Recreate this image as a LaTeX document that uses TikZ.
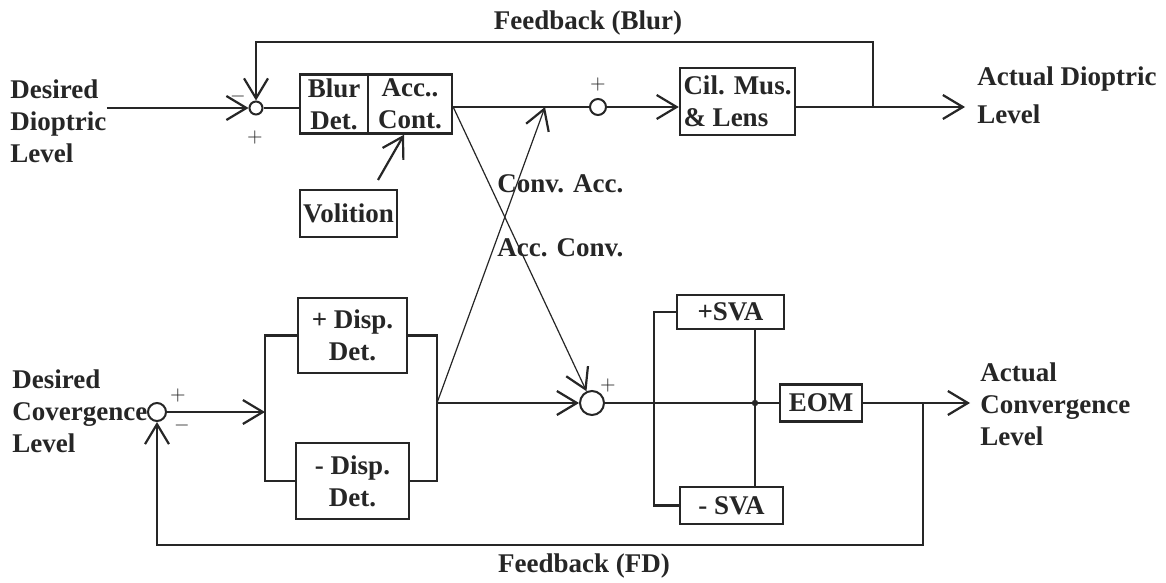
\documentclass[tikz,border=0pt]{standalone}
\usepackage{fontspec}
\setmainfont{Liberation Serif}
\usepackage{tikz}
\usetikzlibrary{positioning, arrows.meta}
\definecolor{dInk}{HTML}{262626}
\newcommand{\dfnt}{\fontsize{13.5}{16}\selectfont\bfseries}

\tikzset{
  blk/.style={draw=dInk, line width=1.2pt, inner sep=1pt, align=center, font=\dfnt, text=dInk},
  sumj/.style={circle, draw=dInk, line width=1pt, inner sep=0pt},
  lbl/.style={font=\dfnt, text=dInk, align=left, inner sep=0pt},
  sgn/.style={font=\fontsize{10}{10}\selectfont, text=dInk, inner sep=0pt},
  sig/.style={draw=dInk, line width=1.1pt},
  arr/.style={sig, -{Straight Barb[length=10pt,width=12pt,line width=1.1pt]}},
  xlink/.style={line width=0.6pt},
}

\begin{document}
\begin{tikzpicture}[x=0.5pt, y=-0.5pt]
  \useasboundingbox[fill=white] (0,0) rectangle (1166,583);

  % accommodation loop
  \node[blk, minimum width=34pt, minimum height=29.5pt] (blurdet) at (334,104) {Blur\\Det.};
  \node[blk, minimum width=42pt, minimum height=29.5pt] (acccont) at (410,104) {Acc..\\Cont.};
  \node[blk, minimum width=48.5pt, minimum height=23.5pt] (volition) at (348.5,213.5) {Volition};
  \node[blk, minimum width=57.5pt, minimum height=33.5pt, align=left] (cilmus) at (737.5,101.5) {Cil. Mus.\\\& Lens};
  \node[sumj, minimum size=6.5pt] (s1) at (256,108) {};
  \node[sumj, minimum size=8pt] (s2) at (598,107) {};

  % vergence loop
  \node[blk, minimum width=54.5pt, minimum height=37.5pt] (pdisp) at (352.5,335.5) {+ Disp.\\Det.};
  \node[blk, minimum width=56.5pt, minimum height=38pt] (mdisp) at (352.5,481) {- Disp.\\Det.};
  \node[blk, minimum width=53.5pt, minimum height=17pt] (psva) at (730.5,312) {+SVA};
  \node[blk, minimum width=51.5pt, minimum height=18.5pt] (msva) at (731.5,505.5) {- SVA};
  \node[blk, minimum width=41pt, minimum height=18.5pt] (eom) at (821,403) {EOM};
  \node[sumj, minimum size=12pt] (s3) at (592,403) {};
  \node[sumj, minimum size=9pt] (s4) at (157,412) {};

  % texts
  \node[lbl, anchor=west] (dioin) at (10,121) {Desired\\Dioptric\\Level};
  \node[lbl, anchor=west, font=\fontsize{13.5}{19}\selectfont\bfseries] (dioout) at (977,95) {Actual Dioptric\\Level};
  \node[lbl, anchor=west] (convin) at (12,411) {Desired\\Covergence\\Level};
  \node[lbl, anchor=west] (convout) at (980,404) {Actual\\Convergence\\Level};
  \node[lbl, anchor=base] (fbblur) at (588,30) {Feedback (Blur)};
  \node[lbl, anchor=base] (fbfd) at (584,572) {Feedback (FD)};
  \node[lbl, anchor=base west] (convacc) at (497,192) {Conv. Acc.};
  \node[lbl, anchor=base west] (accconv) at (497,256) {Acc. Conv.};
  \foreach \n/\x/\y/\s in {a/238/97/-, b/255/137/+, c/598/85/+, d/608/385/+, e/178/395/+, f/182/425/-}
    {\node[sgn] (sg\n) at (\x,\y) {$\s$};}

  \coordinate (fbtop) at (873,107);
  \coordinate (fbtl) at (256,42);
  \coordinate (outd) at (965,107);
  \coordinate (volout) at (378,180);
  \coordinate (brL) at (265,412);
  \coordinate (brR) at (437,403);
  \coordinate (xup) at (545,107);
  \coordinate (svaL) at (654,403);
  \coordinate (svaR) at (755,403);
  \coordinate (fbbot) at (923,403);
  \coordinate (fbbl) at (157,545);
  \coordinate (outc) at (970,403);

  \draw[arr] (dioin.east |- s1) -- (s1);
  \draw[sig] (s1) -- (s1 -| blurdet.west);
  \draw[sig] (acccont.east |- s2) -- (s2);
  \draw[arr] (s2) -- (s2 -| cilmus.west);
  \draw[arr] (cilmus.east |- s2) -- (outd);
  \draw[arr] (fbtop) |- (fbtl) -- (s1);
  \draw[arr] (volout) -- ([xshift=-3pt]acccont.south);

  \draw[arr] (s4) -- (brL);
  \draw[sig] (pdisp.west) -| (brL) |- (mdisp.west);
  \draw[sig] (pdisp.east) -| (brR) |- (mdisp.east);
  \draw[arr] (brR) -- (s3);
  \draw[sig] (s3) -- (eom);
  \draw[sig] (psva.west) -| (svaL) |- (msva.west);
  \draw[sig] (svaR |- psva.south) -- (svaR |- msva.north);
  \fill[dInk] (svaR) circle (1.6pt);
  \draw[arr] (eom) -- (outc);
  \draw[arr] (fbbot) |- (fbbl) -- (s4);

  % cross links
  \draw[arr, xlink] (acccont.east |- s2) -- (s3);
  \draw[arr, xlink] (brR) -- (xup);
\end{tikzpicture}
\end{document}
